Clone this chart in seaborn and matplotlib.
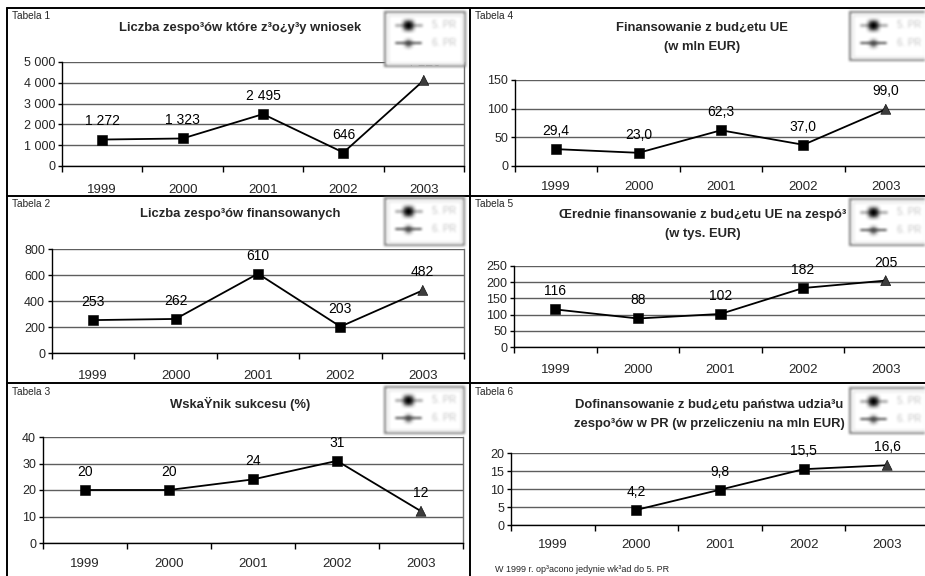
import numpy as np
import pandas as pd
import matplotlib
matplotlib.use("Agg")
import matplotlib.pyplot as plt
from matplotlib.lines import Line2D
from matplotlib.patches import Rectangle
from matplotlib.ticker import FuncFormatter
import seaborn as sns

# ---- data -------------------------------------------------------------
years = ["1999", "2000", "2001", "2002", "2003"]
programme = ["5. PR", "5. PR", "5. PR", "5. PR", "6. PR"]

teams_applied = [1272, 1323, 2495, 646, 4120]
teams_funded = [253, 262, 610, 203, 482]
success_rate = [20, 20, 24, 31, 12]
eu_funding = [29.4, 23.0, 62.3, 37.0, 99.0]
avg_eu_funding = [116, 88, 102, 182, 205]
state_cofunding = [np.nan, 4.2, 9.8, 15.5, 16.6]

titles = [
    ["Liczba zespo\u00b3\u00f3w kt\u00f3re z\u00b3o\u00bfy\u00b3y wniosek"],
    ["Liczba zespo\u00b3\u00f3w finansowanych"],
    ["Wska\u0178nik sukcesu (%)"],
    ["Finansowanie z bud\u00bfetu UE", "(w mln EUR)"],
    ["\u0152rednie finansowanie z bud\u00bfetu UE na zesp\u00f3\u00b3", "(w tys. EUR)"],
    ["Dofinansowanie z bud\u00bfetu pa\u0144stwa udzia\u00b3u",
     "zespo\u00b3\u00f3w w PR (w przeliczeniu na mln EUR)"],
]
table_names = ["Tabela 1", "Tabela 2", "Tabela 3", "Tabela 4", "Tabela 5", "Tabela 6"]
footnote = "W 1999 r. op\u00b3acono jedynie wk\u00b3ad do 5. PR"

# ---- style ------------------------------------------------------------
sns.set_style("white")
plt.rcParams["font.family"] = ["Liberation Sans", "DejaVu Sans"]

W, H = 925, 576
fig = plt.figure(figsize=(W / 100, H / 100), dpi=100)


def fx(x):
    return x / W


def fy(y):
    return 1 - y / H


def soften(radius):
    """agg filter: premultiplied box blur applied a few times."""
    def _filter(im, dpi):
        pad = radius * 3
        a = np.pad(im, ((pad, pad), (pad, pad), (0, 0)), mode="constant")
        rgb = a[..., :3] * a[..., 3:4]
        al = a[..., 3:4].copy()
        stack = np.concatenate([rgb, al], axis=2)
        for axis in (0, 1):
            for _ in range(2):
                acc = np.zeros_like(stack)
                for s in range(-radius, radius + 1):
                    acc += np.roll(stack, s, axis=axis)
                stack = acc / (2 * radius + 1)
        alpha = stack[..., 3:4]
        out = np.zeros_like(a)
        out[..., :3] = np.where(alpha > 1e-6, stack[..., :3] / np.maximum(alpha, 1e-6), 0)
        out[..., 3:4] = alpha
        return np.clip(out, 0, 1), -pad, -pad
    return _filter


def fig_line(x0, y0, x1, y1, **kw):
    ln = Line2D([fx(x0), fx(x1)], [fy(y0), fy(y1)], transform=fig.transFigure, **kw)
    fig.add_artist(ln)
    return ln


def draw_legend(x0, y0, x1, y1):
    box = Rectangle((fx(x0), fy(y1)), fx(x1) - fx(x0), fy(y0) - fy(y1),
                    transform=fig.transFigure, facecolor="white",
                    edgecolor="#7c7c7c", lw=1.4, zorder=5)
    box.set_agg_filter(soften(1))
    fig.add_artist(box)
    inner = Rectangle((fx(x0 + 3), fy(y1 - 3)), fx(x1 - 3) - fx(x0 + 3),
                      fy(y0 + 3) - fy(y1 - 3), transform=fig.transFigure,
                      facecolor="none", edgecolor="#e2e2e2", lw=1.0, zorder=5)
    inner.set_agg_filter(soften(1))
    fig.add_artist(inner)
    rows = [(y0 + 13, "s", "#000000", 6.0, "#b0b0b0", 2.2),
            (y0 + 31, "D", "#3a3a3a", 3.5, "#4a4a4a", 1.4)]
    for (yy, mk, mcol, ms, lcol, lw), name in zip(rows, ["5. PR", "6. PR"]):
        ln = fig_line(x0 + 11, yy, x0 + 36, yy, color=lcol, lw=lw, zorder=6)
        ln.set_agg_filter(soften(1))
        mark = Line2D([fx(x0 + 23)], [fy(yy)], transform=fig.transFigure,
                      marker=mk, color=mcol, markersize=ms, lw=0, zorder=6)
        mark.set_agg_filter(soften(2))
        fig.add_artist(mark)
        t = fig.text(fx(x0 + 47), fy(yy), name, fontsize=7, color="#c4c4c4",
                     ha="left", va="center", zorder=6)
        t.set_agg_filter(soften(1))


def thousands(v, _=None):
    return f"{int(round(v)):,}".replace(",", " ")


def comma1(v):
    return f"{v:.1f}".replace(".", ",")


def integer(v):
    return f"{int(round(v))}"


panels = [
    # values, axes box (l, r, top, bottom px), y ticks, label fmt, tick fmt,
    # title centre x, title line ys, tabela pos, legend box, x label pad
    dict(values=teams_applied, box=(62, 464, 62, 166), yt=np.arange(0, 5001, 1000),
         fmt=thousands, tfmt=thousands, tx=240, ty=[27], tab=(12, 16),
         leg=(385, 12, 465, 66), pad=12.8),
    dict(values=teams_funded, box=(52, 464, 249, 353), yt=np.arange(0, 801, 200),
         fmt=integer, tfmt=integer, tx=240, ty=[213], tab=(12, 204),
         leg=(385, 198, 464, 245), pad=12.2),
    dict(values=success_rate, box=(43, 463, 437, 543), yt=np.arange(0, 41, 10),
         fmt=integer, tfmt=integer, tx=240, ty=[403], tab=(12, 392),
         leg=(385, 387, 464, 433), pad=10.8),
    dict(values=eu_funding, box=(515, 927, 80, 166), yt=np.arange(0, 151, 50),
         fmt=comma1, tfmt=integer, tx=702, ty=[27, 46], tab=(475, 16),
         leg=(850, 12, 928, 60), pad=10.8),
    dict(values=avg_eu_funding, box=(514, 927, 266, 347), yt=np.arange(0, 251, 50),
         fmt=integer, tfmt=integer, tx=703, ty=[214, 233], tab=(475, 204),
         leg=(850, 199, 928, 245), pad=12.2),
    dict(values=state_cofunding, box=(511, 929, 453, 525), yt=np.arange(0, 21, 5),
         fmt=comma1, tfmt=integer, tx=709, ty=[404, 423], tab=(475, 392),
         leg=(850, 388, 928, 433), pad=10.2),
]

# ---- panel frames -----------------------------------------------------
frame_kw = dict(color="black", lw=1.4, zorder=1)
fig_line(7, 8, 925, 8, **frame_kw)
fig_line(7, 196, 925, 196, **frame_kw)
fig_line(7, 383, 925, 383, **frame_kw)
fig_line(7, 8, 7, 576, **frame_kw)
fig_line(470, 8, 470, 576, **frame_kw)

positions = np.arange(len(years))

for p, title_lines, tab in zip(panels, titles, table_names):
    l, r, t, b = p["box"]
    ax = fig.add_axes([fx(l), fy(b), fx(r) - fx(l), fy(t) - fy(b)])
    ax.patch.set_alpha(0)

    df = pd.DataFrame({"pos": positions, "year": years,
                       "programme": programme, "value": p["values"]})
    sns.lineplot(data=df.dropna(), x="pos", y="value", color="black", lw=1.3,
                 ax=ax, zorder=3)
    sns.scatterplot(data=df.dropna(), x="pos", y="value", style="programme",
                    hue="programme", markers={"5. PR": "s", "6. PR": "^"},
                    palette={"5. PR": "black", "6. PR": "#3c3c3c"},
                    s=52, edgecolor="black", linewidth=0.4, legend=False,
                    ax=ax, zorder=4)

    for pos, val in zip(df["pos"], df["value"]):
        if np.isnan(val):
            continue
        ax.annotate(p["fmt"](val), (pos, val), xytext=(0, 13),
                    textcoords="offset points", ha="center", va="center",
                    fontsize=10, color="black", zorder=5)

    ymax = p["yt"][-1]
    ax.set_xlim(-0.5, len(years) - 0.5)
    ax.set_ylim(0, ymax)
    ax.set_xticks(positions)
    ax.set_xticklabels(years, fontsize=9.5)
    ax.set_xticks(np.arange(-0.5, len(years), 1), minor=True)
    ax.tick_params(axis="x", which="major", length=0, pad=p["pad"])
    ax.tick_params(axis="x", which="minor", length=4, width=1, direction="out",
                   color="black", bottom=True)
    ax.set_yticks(p["yt"])
    ax.yaxis.set_major_formatter(FuncFormatter(lambda v, _=None, f=p["tfmt"]: f(v)))
    ax.tick_params(axis="y", length=3, width=1, direction="out", pad=2,
                   labelsize=9, left=True, color="black")
    ax.grid(axis="y", color="#5e5e5e", lw=1.0)
    ax.grid(axis="x", visible=False)
    ax.set_axisbelow(True)
    ax.set_xlabel("")
    ax.set_ylabel("")
    for side in ("left", "bottom"):
        ax.spines[side].set_color("black")
        ax.spines[side].set_linewidth(1.0)
    ax.spines["top"].set_visible(False)
    ax.spines["right"].set_color("#6e6e6e")
    ax.spines["right"].set_linewidth(1.0)

    for line, yy in zip(title_lines, p["ty"]):
        fig.text(fx(p["tx"]), fy(yy + 1), line, ha="center", va="center",
                 fontsize=9.4, fontweight="bold")
    fig.text(fx(p["tab"][0]), fy(p["tab"][1]), tab,
             ha="left", va="center", fontsize=7.3)
    draw_legend(*p["leg"])

fig.text(fx(495), fy(570), footnote, ha="left", va="center", fontsize=6.5)

fig.savefig("out.png", dpi=100)
